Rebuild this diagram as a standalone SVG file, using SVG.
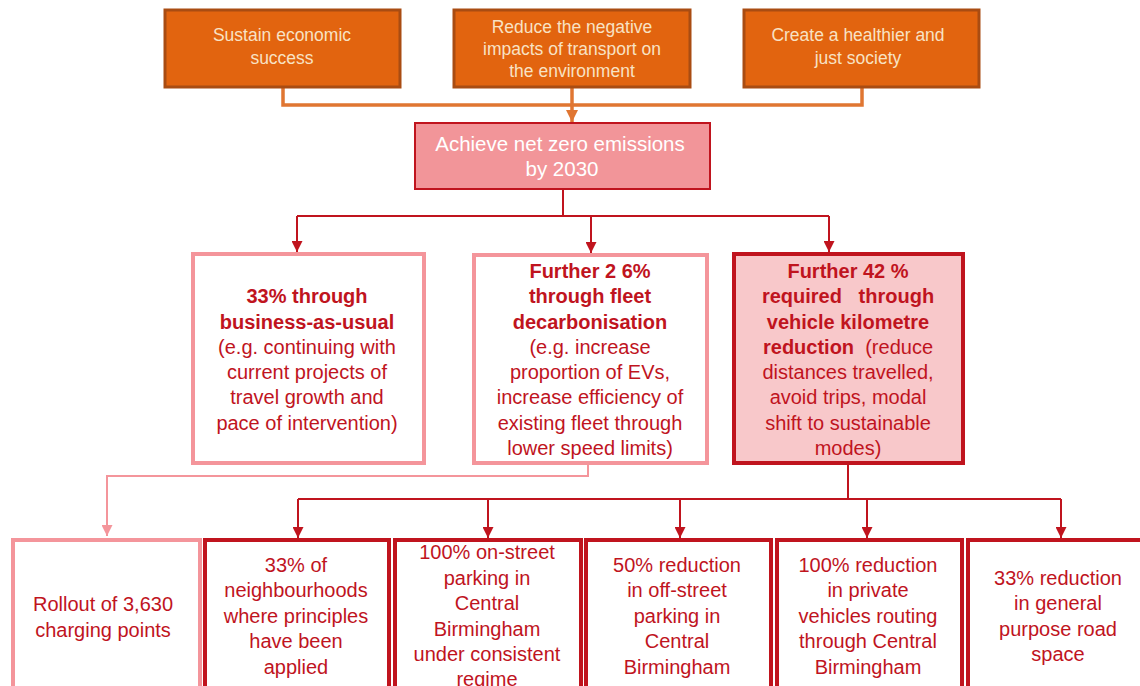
<svg xmlns="http://www.w3.org/2000/svg" width="1140" height="686" viewBox="0 0 1140 686">
<style>
.org{fill:#E2640F;stroke:#A94C12;stroke-width:3}
.ot{font-family:"Liberation Sans",Arial,sans-serif;font-size:17.5px;fill:#F8E2C4;text-anchor:middle}
.t{font-family:"Liberation Sans",Arial,sans-serif;font-size:20px;fill:#C0141E;text-anchor:middle}
.b{font-weight:bold}
.pink{fill:#fff;stroke:#F4959B;stroke-width:4}
.dark{fill:#fff;stroke:#C0141E;stroke-width:4}
.darkf{fill:#F8C8CA;stroke:#C0141E;stroke-width:4}
.lr{fill:none;stroke:#C0141E;stroke-width:2}
.lp{fill:none;stroke:#F4959B;stroke-width:2}
.lo{fill:none;stroke:#E07632;stroke-width:3.5}
</style>
<defs>
<marker id="ar" markerWidth="11" markerHeight="11" refX="11" refY="5.5" orient="auto" markerUnits="userSpaceOnUse" viewBox="0 0 11 11"><path d="M0,0 L11,5.5 L0,11 Z" fill="#C0141E"/></marker>
<marker id="ap" markerWidth="11" markerHeight="11" refX="11" refY="5.5" orient="auto" markerUnits="userSpaceOnUse" viewBox="0 0 11 11"><path d="M0,0 L11,5.5 L0,11 Z" fill="#F4959B"/></marker>
<marker id="ao" markerWidth="12" markerHeight="12" refX="12" refY="6" orient="auto" markerUnits="userSpaceOnUse" viewBox="0 0 12 12"><path d="M0,0 L12,6 L0,12 Z" fill="#E07632"/></marker>
</defs>
<rect width="1140" height="686" fill="#fff"/>
<g id="connectors">
<polyline class="lo" points="283,88 283,105 862,105 862,88"/>
<line class="lo" x1="572" y1="88" x2="572" y2="122" stroke-width="3" marker-end="url(#ao)"/>
<polyline class="lr" points="563,189 563,216"/>
<line class="lr" x1="297" y1="216" x2="829" y2="216"/>
<line class="lr" x1="297" y1="216" x2="297" y2="252" marker-end="url(#ar)"/>
<line class="lr" x1="591" y1="216" x2="591" y2="253" marker-end="url(#ar)"/>
<line class="lr" x1="829" y1="216" x2="829" y2="252" marker-end="url(#ar)"/>
<polyline class="lp" points="588,463 588,476 107,476 107,536" marker-end="url(#ap)"/>
<polyline class="lr" points="848,463 848,499"/>
<line class="lr" x1="298" y1="499" x2="1061" y2="499"/>
<line class="lr" x1="298" y1="499" x2="298" y2="538" marker-end="url(#ar)"/>
<line class="lr" x1="488" y1="499" x2="488" y2="538" marker-end="url(#ar)"/>
<line class="lr" x1="680" y1="499" x2="680" y2="538" marker-end="url(#ar)"/>
<line class="lr" x1="867" y1="499" x2="867" y2="538" marker-end="url(#ar)"/>
<line class="lr" x1="1061" y1="499" x2="1061" y2="538" marker-end="url(#ar)"/>
</g>
<g id="goal1"><rect class="org" x="165" y="10" width="235" height="77"/>
<text class="ot" x="282" y="41">Sustain economic</text><text class="ot" x="282" y="64">success</text></g>
<g id="goal2"><rect class="org" x="454" y="10" width="236" height="77"/>
<text class="ot" x="572" y="33">Reduce the negative</text><text class="ot" x="572" y="55">impacts of transport on</text><text class="ot" x="572" y="77">the environment</text></g>
<g id="goal3"><rect class="org" x="744" y="10" width="235" height="77"/>
<text class="ot" x="858" y="41">Create a healthier and</text><text class="ot" x="858" y="64">just society</text></g>
<g id="netzero"><rect x="415" y="123" width="295" height="66" fill="#F29599" stroke="#C0141E" stroke-width="2"/>
<text x="560" y="151" font-family="'Liberation Sans',Arial,sans-serif" font-size="20.5px" fill="#fff" text-anchor="middle">Achieve net zero emissions</text>
<text x="562" y="176" font-family="'Liberation Sans',Arial,sans-serif" font-size="20.5px" fill="#fff" text-anchor="middle">by 2030</text></g>
<g id="bau"><rect class="pink" x="193" y="254" width="231" height="209"/>
<text class="t b" x="307" y="303">33% through</text>
<text class="t b" x="307" y="329">business-as-usual</text>
<text class="t" x="307" y="354">(e.g. continuing with</text>
<text class="t" x="307" y="379">current projects of</text>
<text class="t" x="307" y="404">travel growth and</text>
<text class="t" x="307" y="430">pace of intervention)</text></g>
<g id="fleet"><rect class="pink" x="474" y="255" width="233" height="208"/>
<text class="t b" x="590" y="278">Further 2 6%</text>
<text class="t b" x="590" y="303">through fleet</text>
<text class="t b" x="590" y="329">decarbonisation</text>
<text class="t" x="590" y="354">(e.g. increase</text>
<text class="t" x="590" y="379">proportion of EVs,</text>
<text class="t" x="590" y="404">increase efficiency of</text>
<text class="t" x="590" y="430">existing fleet through</text>
<text class="t" x="590" y="455">lower speed limits)</text></g>
<g id="vkm"><rect class="darkf" x="734" y="254" width="229" height="209"/>
<text class="t b" x="848" y="278">Further 42 %</text>
<text class="t b" x="848" y="303" xml:space="preserve">required   through</text>
<text class="t b" x="848" y="329">vehicle kilometre</text>
<text class="t" x="848" y="354" xml:space="preserve"><tspan class="b">reduction</tspan>  (reduce</text>
<text class="t" x="848" y="379">distances travelled,</text>
<text class="t" x="848" y="404">avoid trips, modal</text>
<text class="t" x="848" y="430">shift to sustainable</text>
<text class="t" x="848" y="455">modes)</text></g>
<g id="charging"><rect class="pink" x="13" y="540" width="187" height="160"/>
<text class="t" x="103" y="611">Rollout of 3,630</text>
<text class="t" x="103" y="637">charging points</text></g>
<g id="neigh"><rect class="dark" x="205" y="540" width="184" height="160"/>
<text class="t" x="296" y="572">33% of</text>
<text class="t" x="296" y="597">neighbourhoods</text>
<text class="t" x="296" y="623">where principles</text>
<text class="t" x="296" y="648">have been</text>
<text class="t" x="296" y="674">applied</text></g>
<g id="onstreet"><rect class="dark" x="395" y="540" width="186" height="160"/>
<text class="t" x="487" y="559">100% on-street</text>
<text class="t" x="487" y="585">parking in</text>
<text class="t" x="487" y="610">Central</text>
<text class="t" x="487" y="636">Birmingham</text>
<text class="t" x="487" y="661">under consistent</text>
<text class="t" x="487" y="686">regime</text></g>
<g id="offstreet"><rect class="dark" x="586" y="540" width="185" height="160"/>
<text class="t" x="677" y="572">50% reduction</text>
<text class="t" x="677" y="597">in off-street</text>
<text class="t" x="677" y="623">parking in</text>
<text class="t" x="677" y="648">Central</text>
<text class="t" x="677" y="674">Birmingham</text></g>
<g id="private"><rect class="dark" x="777" y="540" width="185" height="160"/>
<text class="t" x="868" y="572">100% reduction</text>
<text class="t" x="868" y="597">in private</text>
<text class="t" x="868" y="623">vehicles routing</text>
<text class="t" x="868" y="648">through Central</text>
<text class="t" x="868" y="674">Birmingham</text></g>
<g id="roadspace"><rect class="dark" x="968" y="540" width="185" height="160"/>
<text class="t" x="1058" y="585">33% reduction</text>
<text class="t" x="1058" y="610">in general</text>
<text class="t" x="1058" y="636">purpose road</text>
<text class="t" x="1058" y="661">space</text></g>
</svg>
